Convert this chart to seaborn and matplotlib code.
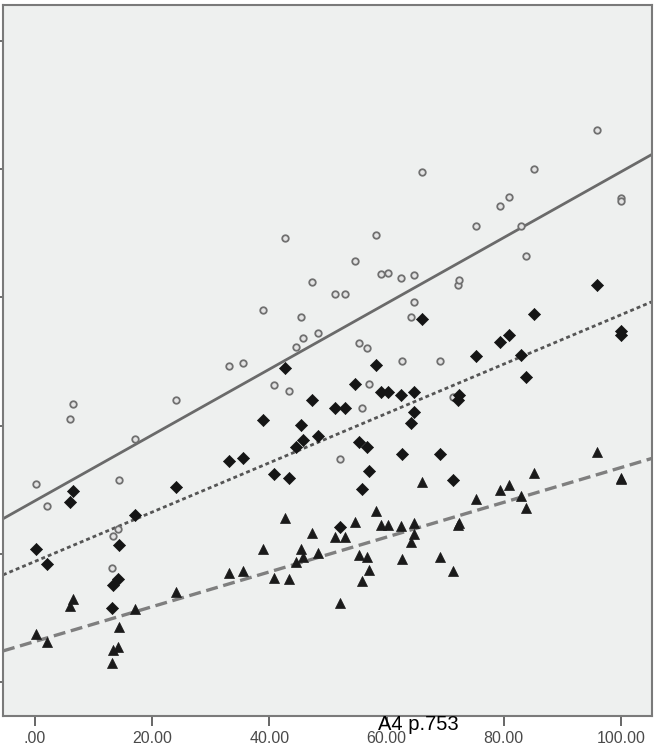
import matplotlib
matplotlib.use("Agg")
import matplotlib.pyplot as plt
import numpy as np
import pandas as pd
import seaborn as sns

sns.set_style("white")
plt.rcParams["font.family"] = ["Liberation Sans", "DejaVu Sans"]

# Shared x value for each case, with three measured outcomes per case
x_vals = [0.2, 2.10, 5.92, 6.43, 13.09, 13.36, 14.08, 14.33, 17.06, 23.98,
          33.05, 35.55, 38.91, 40.84, 42.66, 43.40, 44.49, 45.34, 45.73, 47.35,
          48.29, 51.19, 52.10, 52.95, 54.66, 55.24, 55.85, 56.71, 57.05, 58.19,
          58.99, 60.29, 62.46, 62.68, 64.11, 64.62, 64.70, 66.09, 69.11, 71.25,
          72.13, 72.41, 75.20, 79.40, 80.89, 82.99, 83.79, 85.10, 95.96, 100.0,
          100.0]

circle_vals = [1.547, 1.375, 2.049, 2.168, 0.893, 1.139, 1.196, 1.573, 1.898, 2.197,
               2.465, 2.491, 2.902, 2.319, 3.461, 2.268, 2.613, 2.847, 2.681, 3.118,
               2.720, 3.024, 1.737, 3.024, 3.282, 2.642, 2.137, 2.603, 2.327, 3.484,
               3.185, 3.193, 3.151, 2.506, 2.847, 3.177, 2.966, 3.976, 2.504, 2.221,
               3.094, 3.136, 3.559, 3.711, 3.781, 3.557, 3.323, 4.004, 4.306, 3.773,
               3.756]

diamond_vals = [1.037, 0.918, 1.404, 1.488, 0.575, 0.757, 0.801, 1.066, 1.305, 1.523,
                1.722, 1.747, 2.041, 1.625, 2.447, 1.589, 1.835, 2.007, 1.888, 2.200,
                1.919, 2.137, 1.211, 2.137, 2.327, 1.870, 1.508, 1.835, 1.644, 2.475,
                2.262, 2.262, 2.236, 1.776, 2.020, 2.262, 2.108, 2.832, 1.776, 1.576,
                2.200, 2.236, 2.541, 2.652, 2.704, 2.548, 2.379, 2.868, 3.094, 2.707,
                2.738]

triangle_vals = [0.374, 0.310, 0.593, 0.645, 0.146, 0.250, 0.271, 0.427, 0.567, 0.704,
                 0.848, 0.866, 1.037, 0.814, 1.282, 0.801, 0.938, 1.037, 0.977, 1.160,
                 1.004, 1.133, 0.614, 1.133, 1.246, 0.991, 0.790, 0.973, 0.870, 1.334,
                 1.222, 1.222, 1.217, 0.959, 1.094, 1.238, 1.152, 1.562, 0.977, 0.868,
                 1.225, 1.243, 1.425, 1.498, 1.534, 1.451, 1.355, 1.633, 1.792, 1.586,
                 1.591]

x_ticks = [0, 20, 40, 60, 80, 100]
x_tick_labels = [".00", "20.00", "40.00", "60.00", "80.00", "100.00"]
y_ticks = [0, 1, 2, 3, 4, 5]

df = pd.DataFrame({"x": x_vals, "circle": circle_vals,
                   "diamond": diamond_vals, "triangle": triangle_vals})

W, H = 655, 747
fig = plt.figure(figsize=(W / 100, H / 100), dpi=100)
fig.patch.set_facecolor("white")
ax = fig.add_axes([3 / W, (H - 716) / H, (652 - 3) / W, (716 - 5) / H])
ax.set_facecolor("#eef0ef")

# limits first so the fit lines span the full axis
ax.set_xlim(-5.46, 105.29)
ax.set_ylim(-0.265, 5.281)

# fit lines
sns.regplot(data=df, x="x", y="circle", ax=ax, scatter=False, ci=None,
            truncate=False, line_kws=dict(color="#6a6a6a", lw=2.0, ls="-"))
sns.regplot(data=df, x="x", y="diamond", ax=ax, scatter=False, ci=None,
            truncate=False, line_kws=dict(color="#555555", lw=2.0,
                                          ls=(0, (1.4, 1.1))))
sns.regplot(data=df, x="x", y="triangle", ax=ax, scatter=False, ci=None,
            truncate=False, line_kws=dict(color="#7f7f7f", lw=2.4,
                                          ls=(0, (3.6, 1.7))))

# point markers
sns.scatterplot(data=df, x="x", y="circle", ax=ax, marker="o", s=22,
                facecolor="#e4e4e4", edgecolor="#707070", linewidth=1.3,
                zorder=3)
sns.scatterplot(data=df, x="x", y="diamond", ax=ax, marker="D", s=38,
                color="#151515", edgecolor="#151515", linewidth=0.5, zorder=4)
sns.scatterplot(data=df, x="x", y="triangle", ax=ax, marker="^", s=52,
                color="#1a1a1a", edgecolor="#1a1a1a", linewidth=0.5, zorder=4)

ax.set_xlabel("")
ax.set_ylabel("")
ax.set_xticks(x_ticks)
ax.set_xticklabels(x_tick_labels)
ax.set_yticks(y_ticks)
ax.set_yticklabels([])
ax.tick_params(axis="x", direction="out", length=7.5, width=1.4,
               color="#666666", labelsize=11.5, labelcolor="#4a4a4a", pad=3.5,
               bottom=True)
ax.tick_params(axis="y", direction="out", length=3, width=1.2,
               color="#555555", left=True)
for sp in ax.spines.values():
    sp.set_color("#7a7a7a")
    sp.set_linewidth(1.5)

fig.text(378 / W, (H - 730) / H, "A4 p.753", fontsize=14.5, color="black",
         ha="left", va="baseline", zorder=5)

fig.savefig("out.png", dpi=100)
